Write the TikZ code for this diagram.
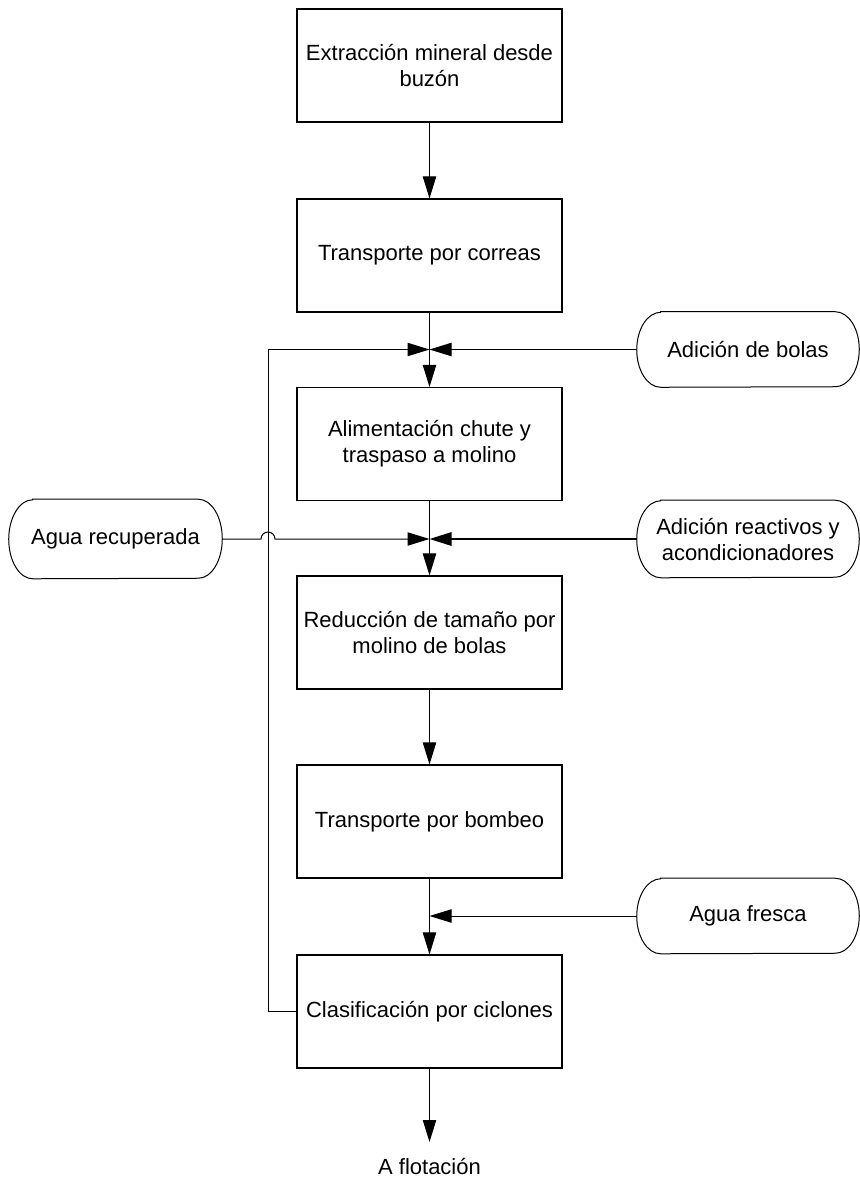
\documentclass[tikz,border=0pt]{standalone}
\usepackage{fontspec}
\setmainfont{Liberation Sans}
\usetikzlibrary{arrows.meta,calc}

% outline of a terminator: straight top and bottom, elliptical ends
\newcommand\termoutline[2]{%
  \draw[line width=0.75pt] ($(#1.north west)+(18pt,0)$) -- ($(#1.north east)+(-18pt,0)$)
    arc[start angle=90,end angle=-90,x radius=18pt,y radius=#2]
    -- ($(#1.south west)+(18pt,0)$)
    arc[start angle=270,end angle=90,x radius=18pt,y radius=#2] -- cycle;}

\begin{document}
\begin{tikzpicture}[x=0.75pt,y=-0.75pt,
  font=\fontsize{16.5}{19.5}\selectfont,
  procbox/.style={draw,line width=0.8pt,minimum width=198.75pt,minimum height=84.75pt,
    align=center,inner sep=0pt},
  termnode/.style={draw=none,align=center,inner sep=0pt},
  flow/.style={line width=0.75pt},
  arr/.style={line width=0.75pt,-{Triangle[length=16.5pt,width=10pt]}}]
\useasboundingbox (0,0) rectangle (860,1179);

% process steps
\node[procbox] (b1) at (429.5,65.5)  {Extracción mineral desde\\buzón};
\node[procbox] (b2) at (429.5,255.5) {Transporte por correas};
\node[procbox] (b3) at (429.5,444)   {Alimentación chute y\\traspaso a molino};
\node[procbox] (b4) at (429.5,632.5) {Reducción de tamaño por\\molino de bolas};
\node[procbox] (b5) at (429.5,821.5) {Transporte por bombeo};
\node[procbox] (b6) at (429.5,1011.5){Clasificación por ciclones};

% external inputs
\node[termnode,minimum width=166.5pt,minimum height=56.25pt] (bolas) at (748,349.5) {Adición de bolas};
\node[termnode,minimum width=166.5pt,minimum height=57.75pt] (reac)  at (748,539)   {Adición reactivos y\\acondicionadores};
\node[termnode,minimum width=159.75pt,minimum height=59.25pt] (rec)  at (115.5,539) {Agua recuperada};
\node[termnode,minimum width=166.5pt,minimum height=56.25pt] (fresca) at (748,916)  {Agua fresca};
\termoutline{bolas}{28.125pt}
\termoutline{reac}{28.875pt}
\termoutline{rec}{29.625pt}
\termoutline{fresca}{28.125pt}

% output label
\node (flot) at (429.5,1166) {A flotación};

% junction points on the main line
\coordinate (j1) at (429.5,349.5);
\coordinate (j2) at (429.5,539);
\coordinate (j3) at (429.5,916);
\coordinate (loop) at (268,349.5);
\coordinate (jump) at (261,539);
\coordinate (out) at (429.5,1142);

% main flow
\draw[arr] (b1) -- (b2);
\draw[flow] (b2.south) -- (j1);
\draw[arr] (j1) -- (b3.north);
\draw[flow] (b3.south) -- (j2);
\draw[arr] (j2) -- (b4.north);
\draw[arr] (b4) -- (b5);
\draw[flow] (b5.south) -- (j3);
\draw[arr] (j3) -- (b6.north);
\draw[arr] (b6.south) -- (out);

% side feeds
\draw[arr] (bolas.west) -- (j1);
\draw[arr,line width=1.5pt] (reac.west) -- (j2);
\draw[arr] (fresca.west) -- (j3);
\draw[arr] (rec.east) -- (jump) arc[start angle=180,end angle=0,radius=5.25pt] -- (j2);

% recycle from the cyclones
\draw[arr] (b6.west) -| (loop) -- (j1);
\end{tikzpicture}
\end{document}
